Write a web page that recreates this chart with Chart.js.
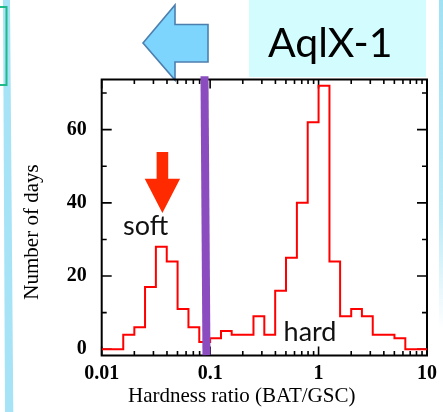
<!DOCTYPE html>
<html><head><meta charset="utf-8">
<script src="https://cdn.jsdelivr.net/npm/chart.js@4.4.0/dist/chart.umd.min.js"></script>
<style>html,body{margin:0;padding:0;background:#fff;overflow:hidden}canvas{display:block}</style>
</head><body>
<canvas id="c" width="443" height="412"></canvas>
<script>
// ---- data ----
const binEdges = [0.01, 0.0126, 0.0158, 0.02, 0.0251, 0.0316, 0.0398, 0.0501, 0.0631, 0.0794,
                  0.1, 0.126, 0.158, 0.2, 0.251, 0.316, 0.398, 0.501, 0.631, 0.794,
                  1, 1.26, 1.58, 2, 2.51, 3.16, 3.98, 5.01, 6.31, 7.94, 10];
const dayCounts = [0, 0, 4, 6, 17, 28, 24, 11, 6, 2,
                   3, 5, 4, 4, 9, 4, 16, 25, 40, 62,
                   72, 24, 9, 11, 9, 4, 4, 3, 0, 0];
const xMajorTicks = [0.01, 0.1, 1, 10];
const xTickLabels = ['0.01', '0.1', '1', '10'];
const yMajorTicks = [0, 20, 40, 60];
const yMinorTicks = [10, 30, 50, 70];
const boundaryX = [0.0887, 0.0925];
const boundaryY = [74.6, -1.6];
const xTitle = 'Hardness ratio (BAT/GSC)';
const yTitle = 'Number of days';
const sourceName = 'AqlX-1';
const peakLabels = ['soft', 'hard'];

const histPoints = binEdges.map((e, i) => ({x: e, y: dayCounts[Math.min(i, dayCounts.length - 1)]}));
const boundaryPoints = boundaryX.map((x, i) => ({x: x, y: boundaryY[i]}));
const xMinorTicks = [];
for (let d = 0; d < xMajorTicks.length - 1; d++) for (let m = 2; m <= 9; m++) xMinorTicks.push(xMajorTicks[d] * m);

const serif = "'Liberation Serif', 'Times New Roman', serif";

const decor = {
  id: 'decor',
  beforeDraw(chart) {
    const ctx = chart.ctx;
    ctx.save();
    // left slide decorations
    ctx.fillStyle = '#a6e3f6';
    ctx.beginPath(); ctx.moveTo(3, 0); ctx.lineTo(10, 0); ctx.lineTo(13.3, 412); ctx.lineTo(5, 412); ctx.closePath(); ctx.fill();
    ctx.strokeStyle = '#20b98a'; ctx.lineWidth = 2;
    ctx.beginPath(); ctx.moveTo(0, 7); ctx.lineTo(6.5, 7); ctx.lineTo(6.5, 85); ctx.lineTo(0, 85); ctx.stroke();
    // right strip
    const g = ctx.createLinearGradient(0, 0, 0, 330);
    g.addColorStop(0, 'rgba(160,225,243,1)'); g.addColorStop(0.65, 'rgba(160,225,243,0.7)'); g.addColorStop(1, 'rgba(160,225,243,0)');
    ctx.fillStyle = g; ctx.fillRect(439, 0, 4, 330);
    // source name box
    ctx.fillStyle = '#d2fcfd'; ctx.fillRect(249, 0, 177, 77);
    ctx.fillStyle = '#000'; ctx.font = "41px Lato, 'Open Sans', sans-serif";
    ctx.textAlign = 'left'; ctx.textBaseline = 'alphabetic';
    ctx.fillText(sourceName, 268, 57);
    // blue arrow
    ctx.fillStyle = '#7dd4fc'; ctx.strokeStyle = '#4d7fae'; ctx.lineWidth = 1.6;
    ctx.beginPath();
    ctx.moveTo(143, 43); ctx.lineTo(175, 5); ctx.lineTo(175, 24.5); ctx.lineTo(208, 24.5);
    ctx.lineTo(208, 62); ctx.lineTo(175, 62); ctx.lineTo(175, 80); ctx.closePath();
    ctx.fill(); ctx.stroke();
    ctx.restore();
  },
  beforeDatasetsDraw(chart) {
    const ctx = chart.ctx, a = chart.chartArea;
    const xs = chart.scales.x, ys = chart.scales.y;
    ctx.save();
    ctx.strokeStyle = '#000'; ctx.lineWidth = 1.6;
    ctx.beginPath();
    xMajorTicks.forEach(v => { const p = xs.getPixelForValue(v);
      ctx.moveTo(p, a.bottom); ctx.lineTo(p, a.bottom - 9); ctx.moveTo(p, a.top); ctx.lineTo(p, a.top + 9); });
    xMinorTicks.forEach(v => { const p = xs.getPixelForValue(v);
      ctx.moveTo(p, a.bottom); ctx.lineTo(p, a.bottom - 4.5); ctx.moveTo(p, a.top); ctx.lineTo(p, a.top + 4.5); });
    yMajorTicks.forEach(v => { const p = ys.getPixelForValue(v);
      ctx.moveTo(a.left, p); ctx.lineTo(a.left + 10, p); ctx.moveTo(a.right, p); ctx.lineTo(a.right - 10, p); });
    yMinorTicks.forEach(v => { const p = ys.getPixelForValue(v);
      ctx.moveTo(a.left, p); ctx.lineTo(a.left + 5, p); ctx.moveTo(a.right, p); ctx.lineTo(a.right - 5, p); });
    ctx.stroke();
    ctx.lineWidth = 2;
    ctx.strokeRect(a.left, a.top, a.right - a.left, a.bottom - a.top);
    ctx.restore();
  },
  afterDraw(chart) {
    const ctx = chart.ctx;
    const xs = chart.scales.x, ys = chart.scales.y;
    ctx.save();
    // red arrow pointing at the soft peak
    const ax = xs.getPixelForValue(0.0363);
    const yTop = ys.getPixelForValue(53.9), yNeck = ys.getPixelForValue(46.6), yTip = ys.getPixelForValue(37.2);
    ctx.fillStyle = '#ff2a00';
    ctx.beginPath();
    ctx.moveTo(ax - 5.8, yTop); ctx.lineTo(ax + 5.8, yTop); ctx.lineTo(ax + 5.8, yNeck); ctx.lineTo(ax + 17.7, yNeck);
    ctx.lineTo(ax, yTip); ctx.lineTo(ax - 17.7, yNeck); ctx.lineTo(ax - 5.8, yNeck); ctx.closePath(); ctx.fill();
    // peak labels
    ctx.fillStyle = '#111'; ctx.font = "27px Lato, 'Open Sans', sans-serif";
    ctx.textAlign = 'center'; ctx.textBaseline = 'alphabetic';
    ctx.fillText(peakLabels[0], xs.getPixelForValue(0.0254), ys.getPixelForValue(31.2));
    ctx.fillText(peakLabels[1], xs.getPixelForValue(0.834), ys.getPixelForValue(2.3));
    // axis titles
    ctx.fillStyle = '#000'; ctx.font = '21px ' + serif;
    ctx.textBaseline = 'middle';
    ctx.fillText(xTitle, 241.7, 396);
    ctx.translate(32, 232); ctx.rotate(-Math.PI / 2);
    ctx.fillText(yTitle, 0, 0);
    ctx.restore();
  }
};

new Chart(document.getElementById('c'), {
  type: 'line',
  data: {
    datasets: [
      { label: 'boundary', data: boundaryPoints, borderColor: '#8a4cbe', borderWidth: 8,
        pointRadius: 0, clip: false, order: 0, borderCapStyle: 'butt' },
      { label: 'histogram', data: histPoints, borderColor: '#ff0000', borderWidth: 2,
        stepped: 'before', pointRadius: 0, order: 1, fill: false }
    ]
  },
  options: {
    responsive: false, animation: false, devicePixelRatio: 1,
    layout: { padding: { left: 0, top: 79.5, right: 10.7, bottom: 0 } },
    plugins: { legend: { display: false }, tooltip: { enabled: false } },
    scales: {
      x: {
        type: 'logarithmic', min: 0.01, max: 10,
        grid: { display: false, drawTicks: false },
        border: { display: false },
        afterFit: s => { s.height = 412 - 355.5; },
        afterBuildTicks: s => { s.ticks = xMajorTicks.map(v => ({value: v})); },
        ticks: { autoSkip: false, maxRotation: 0, padding: 6, color: '#000',
          font: { family: serif, size: 20, weight: 'bold' },
          callback: (v) => { const i = xMajorTicks.indexOf(v); return i >= 0 ? xTickLabels[i] : ''; } }
      },
      y: {
        type: 'linear', min: -1.7, max: 73.7,
        grid: { display: false, drawTicks: false },
        border: { display: false },
        afterFit: s => { s.width = 101.7; },
        afterBuildTicks: s => { s.ticks = yMajorTicks.map(v => ({value: v})); },
        ticks: { padding: 15, color: '#000', font: { family: serif, size: 20, weight: 'bold' } }
      }
    }
  },
  plugins: [decor]
});
</script>
</body></html>
